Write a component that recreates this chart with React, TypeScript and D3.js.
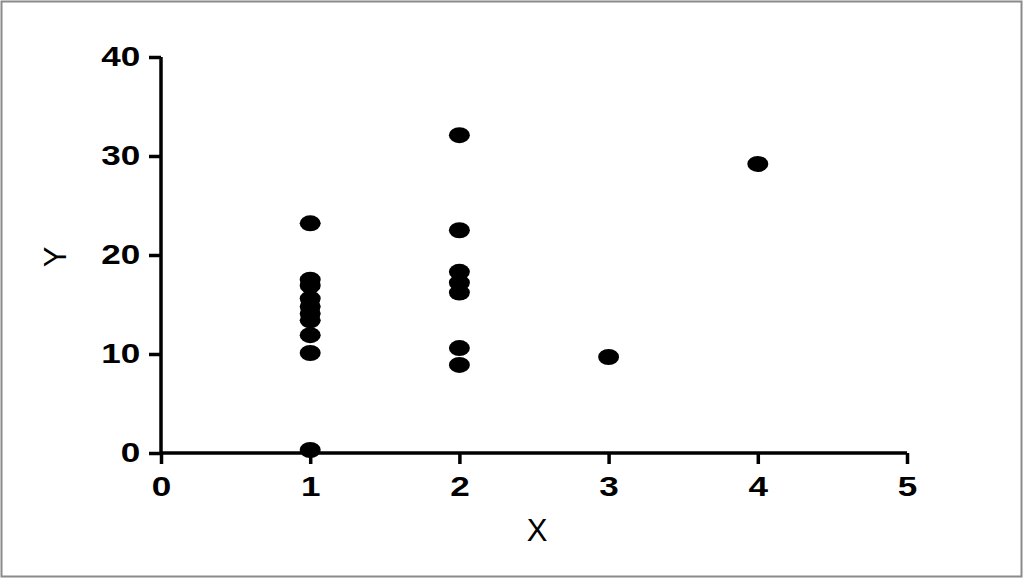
import React, { useEffect, useRef } from 'react';
import * as d3 from 'd3';

// valeurs
const xValues = [1, 1, 1, 1, 1, 1, 1, 1, 1, 1, 2, 2, 2, 2, 2, 2, 2, 3, 4];
const yValues = [23.2, 17.5, 16.9, 15.6, 14.8, 14.1, 13.4, 11.9, 10.1, 0.3, 32.1, 22.5, 18.3, 17.2, 16.2, 10.6, 8.9, 9.7, 29.2];
const xTicks = [0, 1, 2, 3, 4, 5];
const yTicks = [0, 10, 20, 30, 40];
const xTitle = 'X';
const yTitle = 'Y';

const W = 1024;
const H = 579;

export default function App() {
  const svgRef = useRef<SVGSVGElement>(null);

  useEffect(() => {
    if (!svgRef.current) return;
    const svg = d3.select(svgRef.current);
    svg.selectAll('*').remove();

    svg.append('rect')
      .attr('width', W).attr('height', H).attr('fill', '#fff');
    svg.append('rect')
      .attr('x', 1.5).attr('y', 1.5)
      .attr('width', 1020).attr('height', 575)
      .attr('fill', 'none').attr('stroke', '#8a8a8a').attr('stroke-width', 2);

    const x = d3.scaleLinear().domain([0, 5]).range([161, 907]);
    const y = d3.scaleLinear().domain([0, 40]).range([453, 57]);

    const font = "'Liberation Sans', Arial, sans-serif";

    // Axe X
    const gx = svg.append('g')
      .attr('transform', `translate(0,${y(0)})`)
      .call(d3.axisBottom(x).tickValues(xTicks).tickFormat(d3.format('d'))
        .tickSize(11).tickPadding(13).tickSizeOuter(0));
    // Axe Y
    const gy = svg.append('g')
      .attr('transform', `translate(${x(0)},0)`)
      .call(d3.axisLeft(y).tickValues(yTicks).tickFormat(d3.format('d'))
        .tickSize(12).tickPadding(4).tickSizeOuter(0));

    [gx, gy].forEach(g => {
      g.select('.domain').attr('stroke', '#000').attr('stroke-width', 3.5);
      g.selectAll('.tick line').attr('stroke', '#000').attr('stroke-width', 3.5);
      g.selectAll('.tick text')
        .attr('fill', '#000')
        .attr('transform', 'scale(1.3,1)')
        .style('font-family', font)
        .style('font-weight', 'bold')
        .style('font-size', '27px');
    });
    gy.select('.domain').attr('d', `M0,${y(40)}V${y(0)}`);
    gx.select('.domain').attr('d', `M${x(0)},0H${x(5)}`);

    // Titres
    svg.append('text')
      .attr('x', 537).attr('y', 541)
      .attr('text-anchor', 'middle')
      .style('font-family', font)
      .style('font-size', '31px')
      .text(xTitle);
    svg.append('text')
      .attr('transform', `translate(66,257) rotate(-90)`)
      .attr('text-anchor', 'middle')
      .style('font-family', font)
      .style('font-size', '31px')
      .text(yTitle);

    // Points
    svg.append('g')
      .selectAll('ellipse')
      .data(xValues.map((v, i) => ({ x: v, y: yValues[i] })))
      .join('ellipse')
      .attr('cx', d => x(d.x))
      .attr('cy', d => y(d.y))
      .attr('rx', 10.5)
      .attr('ry', 8)
      .attr('fill', '#000');
  }, []);

  return (
    <svg
      ref={svgRef}
      width={W}
      height={H}
      style={{ position: 'absolute', left: 0, top: 0 }}
    />
  );
}
